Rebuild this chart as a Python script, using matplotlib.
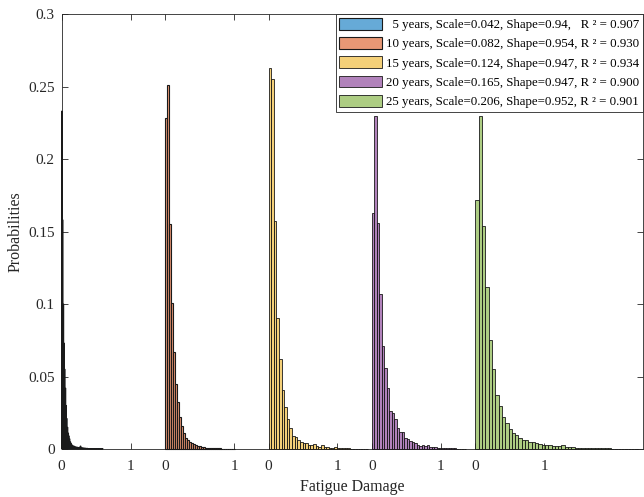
import numpy as np
import matplotlib
matplotlib.use("Agg")
import matplotlib.pyplot as plt

plt.rcParams["font.family"] = ["Liberation Serif", "DejaVu Serif"]

# ---- data (probabilities per bin) ----
years = [5, 10, 15, 20, 25]
scales = ["0.042", "0.082", "0.124", "0.165", "0.206"]
shapes = ["0.94", "0.954", "0.947", "0.947", "0.952"]
r2 = ["0.907", "0.930", "0.934", "0.900", "0.901"]

# bin widths of each histogram and the x shift of each group
bin_width = [0.01, 0.029, 0.038, 0.036, 0.048]
offsets = [0.0, 1.5, 3.0, 4.5, 6.0]

p5 = [0.233, 0.158, 0.100, 0.073, 0.055, 0.042, 0.030, 0.021, 0.015, 0.011,
      0.009, 0.007, 0.005, 0.004, 0.003, 0.0025, 0.002, 0.002, 0.0018, 0.0015,
      0.0013, 0.0012, 0.0012, 0.0011, 0.001, 0.001, 0.0012, 0.002, 0.0009, 0.0008,
      0.0007, 0.0006, 0.0006, 0.0005, 0.0005, 0.0004, 0.0004, 0.0004, 0.0003, 0.0003,
      0.0003, 0.0003, 0.0003, 0.0002, 0.0002, 0.0002, 0.0002, 0.0002, 0.0002, 0.0002,
      0.0002, 0.0002, 0.0002, 0.0002, 0.0002, 0.0002, 0.0002, 0.0002, 0.0002, 0.0002]
p10 = [0.228, 0.251, 0.155, 0.101, 0.067, 0.0446, 0.0326, 0.0223, 0.0159, 0.0108,
       0.0074, 0.006, 0.005, 0.004, 0.0033, 0.0027, 0.0022, 0.0018, 0.0015, 0.0012,
       0.001, 0.0009, 0.0008, 0.0007, 0.0006, 0.0005, 0.0004, 0.0004, 0.0003, 0.0003,
       0.0003, 0.0003, 0.0003, 0.0002, 0.0002]
p15 = [0.263, 0.255, 0.157, 0.0906, 0.062, 0.041, 0.029, 0.0205, 0.0143, 0.0092,
       0.0085, 0.0062, 0.005, 0.004, 0.004, 0.003, 0.003, 0.0037, 0.002, 0.0016,
       0.0025, 0.0015, 0.0012, 0.001, 0.0008, 0.0012, 0.0006, 0.0005, 0.0007, 0.0004,
       0.0004, 0.0003, 0.0003, 0.0003, 0.0002, 0.0002, 0.0002, 0.0002]
p20 = [0.163, 0.230, 0.156, 0.107, 0.071, 0.056, 0.042, 0.026, 0.0245, 0.0205,
       0.0147, 0.012, 0.012, 0.0074, 0.0067, 0.0058, 0.005, 0.0043, 0.003, 0.002,
       0.0025, 0.002, 0.0028, 0.0015, 0.0012, 0.0012, 0.001, 0.0008, 0.001, 0.0006,
       0.0005, 0.0005, 0.0004, 0.0004, 0.0003, 0.0003, 0.0003, 0.0002]
p25 = [0.172, 0.230, 0.154, 0.112, 0.075, 0.055, 0.037, 0.030, 0.022, 0.018,
       0.014, 0.011, 0.0095, 0.0076, 0.0065, 0.006, 0.005, 0.0045, 0.004, 0.0035,
       0.003, 0.0028, 0.0025, 0.002, 0.002, 0.0018, 0.0025, 0.0015, 0.0013, 0.0012,
       0.001, 0.001, 0.0008, 0.0008, 0.0006, 0.0006, 0.0005, 0.0005, 0.0004, 0.0004,
       0.0004, 0.0003, 0.0003, 0.0003, 0.0003, 0.0002, 0.0002, 0.0002, 0.0002]
probs = [p5, p10, p15, p20, p25]

# MATLAB default colour order, face alpha 0.6, opaque edges
colors = [(0.0, 0.447, 0.741), (0.85, 0.325, 0.098), (0.929, 0.694, 0.125),
          (0.494, 0.184, 0.556), (0.466, 0.674, 0.188)]
face_alpha = 0.6
edge_width = [0.8, 0.8, 0.6, 0.6, 0.6]

yticks = [0, 0.05, 0.1, 0.15, 0.2, 0.25, 0.3]
ytick_labels = ["0", "0.05", "0.1", "0.15", "0.2", "0.25", "0.3"]

# ---- figure ----
fig = plt.figure(figsize=(6.44, 4.97), dpi=100)
ax = fig.add_axes([61.6 / 644, 1 - 449 / 497, (643 - 61.6) / 644, (449 - 14) / 497])

for i in range(len(years)):
    p = np.asarray(probs[i])
    edges = offsets[i] + bin_width[i] * np.arange(len(p))
    lead = "  " if years[i] < 10 else ""
    gap = "   " if i == 0 else " "
    label = (f"{lead}{years[i]} years, Scale={scales[i]}, Shape={shapes[i]},"
             f"{gap}R \u00b2 = {r2[i]}")
    bars = ax.bar(edges, p, width=bin_width[i], align="edge",
                  facecolor=(*colors[i], face_alpha), edgecolor="#1a1a1a",
                  linewidth=edge_width[i], label=label, zorder=3, clip_on=False)
    if i == 0:
        # very thin bins: keep them from snapping away at the axis edge
        for b in bars:
            b.set_snap(False)

xt, xl = [], []
for off in offsets:
    xt += [off, off + 1]
    xl += ["0", "1"]

ax.set_xlim(0, 8.43)
ax.set_ylim(0, 0.3)
ax.set_xticks(xt)
ax.set_xticklabels(xl)
ax.set_yticks(yticks)
ax.set_yticklabels(ytick_labels)
ax.tick_params(direction="in", length=4, width=0.6, top=True, right=True,
               labelsize=11, colors="#262626")
ax.tick_params(axis="x", pad=8)
ax.tick_params(axis="y", pad=5)
for s in ax.spines.values():
    s.set_color("#262626")
    s.set_linewidth(0.6)

ax.set_xlabel("Fatigue Damage", fontsize=11.5, color="#262626", labelpad=4)
ax.set_ylabel("Probabilities", fontsize=11.5, color="#262626", labelpad=3)

leg = ax.legend(loc="upper right", fontsize=9.3, frameon=True, fancybox=False,
                borderaxespad=0, handlelength=3.3, handleheight=1.05,
                handletextpad=0.3, labelspacing=0.45, borderpad=0.3,
                framealpha=1)
leg.get_frame().set_edgecolor("#262626")
leg.get_frame().set_linewidth(0.6)
leg.set_zorder(5)

fig.savefig("out.png", dpi=100)
